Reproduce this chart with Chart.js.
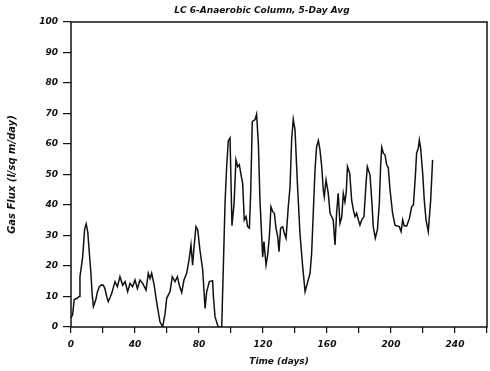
<!DOCTYPE html>
<html>
<head>
<meta charset="utf-8">
<script src="https://cdn.jsdelivr.net/npm/chart.js@4"></script>
<style>
  html, body { margin: 0; padding: 0; background: #fff; }
  #wrap { width: 490px; height: 371px; position: relative; }
</style>
</head>
<body>
<div id="wrap"><canvas id="chart"></canvas></div>
<script>
// day, gas flux
let days = [0, 1, 2, 4, 5, 5.6, 7.3, 8.5, 9.5, 10.5, 11.5, 12.3, 13.2, 14, 15.5, 16.5, 17.7, 19, 20.2, 21.2,
    22.3, 23.3, 24.3, 25.4, 26.5, 27.5, 29, 30.6, 32.3, 33.8, 35.4, 36.9, 38.5, 40, 41.5, 43.1, 44.8, 46.9, 48.3, 49.4,
    50.4, 52, 53, 54, 55.6, 57.3, 58.8, 59.8, 61.9, 63.3, 65, 66.5, 67.7, 69.2, 70.6, 72.3, 73.9, 75, 76, 76.9,
    78.1, 79.2, 80.6, 82.3, 83.8, 84.8, 86.5, 88.5, 89, 90, 92, 94.2, 96.3, 97.3, 98.3, 99.4, 100.6, 101.9, 103.1, 104.2,
    105.2, 106.3, 107.3, 108.3, 109.4, 110.4, 111.5, 112.3, 113.3, 115, 116, 117.1, 118.1, 119.2, 119.8, 120.6, 121.9, 122.9, 124, 125,
    126, 127.1, 128.1, 129.2, 130, 131, 132.3, 133.3, 134.4, 135.8, 136.9, 137.9, 138.9, 140, 141.5, 143.1, 144.8, 146.3, 147.7, 149.4,
    150.4, 151.5, 152.5, 153.5, 154.6, 155.6, 156.7, 157.7, 158.3, 159.4, 160.8, 161.9, 163.9, 165, 166, 167, 168.1, 169.2, 170.2, 171.2,
    172, 172.8, 174.2, 175.4, 176.5, 177.5, 178.5, 179.6, 180.6, 181.7, 183.1, 184.4, 185.2, 186.9, 188.1, 188.9, 190.2, 191.5, 192.7, 193.5,
    194.2, 195.2, 196.3, 197.3, 198.3, 199.4, 201, 202.5, 204, 205.2, 206.3, 207.3, 208.3, 209.8, 211.5, 212.9, 214, 215.2, 216, 217.1,
    217.7, 218.5, 219.8, 220.8, 221.9, 223.3, 224.8, 226];
let flux = [3, 4, 9, 9.5, 10, 16.5, 23, 32, 33.8, 31, 24, 18.7, 11, 6.7, 8.9, 11.5, 13.2, 13.8, 13.7, 12.6,
    10, 8.3, 9.5, 11, 13, 14.9, 13.2, 16.5, 13.7, 14.9, 11.6, 14.3, 13.2, 15.4, 12.6, 15.4, 14.3, 12.1, 17.6, 15.9,
    17.6, 13.7, 10, 6.7, 1.7, 0, 4.5, 9.4, 11.6, 16.5, 14.9, 16.5, 13.7, 11.3, 15.4, 17.6, 22.5, 26.9, 20.3, 26.2,
    32.9, 31.9, 25.2, 18.7, 6.1, 11.6, 14.9, 15.2, 10, 3.4, 0, 0, 41, 52.6, 61, 62, 33.2, 40.3, 54.8, 52.6,
    53.2, 49.8, 47.1, 35.1, 36.2, 32.9, 32.4, 43.8, 67.3, 68, 69.8, 60.2, 41.6, 29.6, 23, 28, 20.3, 23.5, 30, 39.4,
    37.9, 37.3, 32.4, 29.6, 24.7, 32.4, 32.9, 30.8, 29.1, 39.4, 46, 61.3, 68.1, 64.7, 47.1, 30.7, 19.8, 11.6, 14.3, 17.6,
    24.2, 38.4, 51.5, 59.1, 61.1, 58.1, 52.6, 44.9, 42.7, 48.2, 43.8, 37.3, 35.1, 26.9, 37.3, 43.8, 34, 36, 43.8, 41,
    44, 52.6, 50.4, 41.6, 38.3, 36.2, 37.3, 35.1, 33.4, 35.1, 36.2, 47.1, 52.6, 49.8, 40.5, 32.9, 29.1, 31.9, 40.5, 52.6,
    58.9, 57, 56.4, 53.1, 52.3, 44.9, 37.3, 33.4, 33.1, 32.9, 31.3, 35.1, 33.1, 33.1, 35.6, 39.4, 40, 49.3, 57, 58.7,
    61.3, 58.7, 50.4, 41.6, 35.1, 31.3, 41.6, 54.8];

let xTicks = [0, 40, 80, 120, 160, 200, 240];
let titleText = 'LC 6-Anaerobic Column, 5-Day Avg';

let points = days.map((d, i) => ({x: d, y: flux[i]}));

let font = {family: 'DejaVu Sans', size: 9, weight: 'bold', style: 'italic'};

// frame round the plot area + the title (sits a bit left of the plot centre)
let boxPlugin = {
    id: 'box',
    afterDraw(chart) {
        let a = chart.chartArea;
        let ctx = chart.ctx;
        ctx.save();
        ctx.strokeStyle = '#111';
        ctx.lineWidth = 1.5;
        ctx.strokeRect(a.left, a.top, a.right - a.left, a.bottom - a.top);
        ctx.fillStyle = '#111';
        ctx.font = 'italic bold 9px "DejaVu Sans"';
        ctx.textAlign = 'center';
        ctx.textBaseline = 'middle';
        ctx.fillText(titleText, 262, 11);
        ctx.restore();
    }
};

new Chart(document.getElementById('chart'), {
    type: 'line',
    data: {
        datasets: [{
            data: points,
            borderColor: '#111',
            borderWidth: 1.5,
            pointRadius: 0,
            tension: 0,
            fill: false
        }]
    },
    options: {
        responsive: true,
        maintainAspectRatio: false,
        animation: false,
        layout: {padding: {top: 22, right: 3, left: 2, bottom: 0}},
        plugins: {
            legend: {display: false},
            tooltip: {enabled: false},
            title: {display: false}
        },
        scales: {
            x: {
                type: 'linear',
                min: 0,
                max: 260,
                afterFit(s) { s.height = 44; s.paddingRight = 0; },
                grid: {drawOnChartArea: false, tickLength: 6, color: '#111', lineWidth: 1.2},
                border: {display: false},
                ticks: {
                    stepSize: 20,
                    color: '#111',
                    font: font,
                    maxRotation: 0,
                    padding: 6,
                    callback: v => xTicks.includes(v) ? String(v) : ''
                },
                title: {display: true, text: 'Time (days)', color: '#111', font: font, padding: {top: 6}}
            },
            y: {
                min: 0,
                max: 100,
                afterFit(s) { s.width = 69; },
                grid: {drawOnChartArea: false, tickLength: 8, color: '#111', lineWidth: 1.2},
                border: {display: false},
                ticks: {stepSize: 10, color: '#111', font: font, padding: 5},
                title: {display: true, text: 'Gas Flux (l/sq m/day)', color: '#111', font: {family: 'DejaVu Sans', size: 10, weight: 'bold', style: 'italic'}, padding: {bottom: 6}}
            }
        }
    },
    plugins: [boxPlugin]
});
</script>
</body>
</html>
